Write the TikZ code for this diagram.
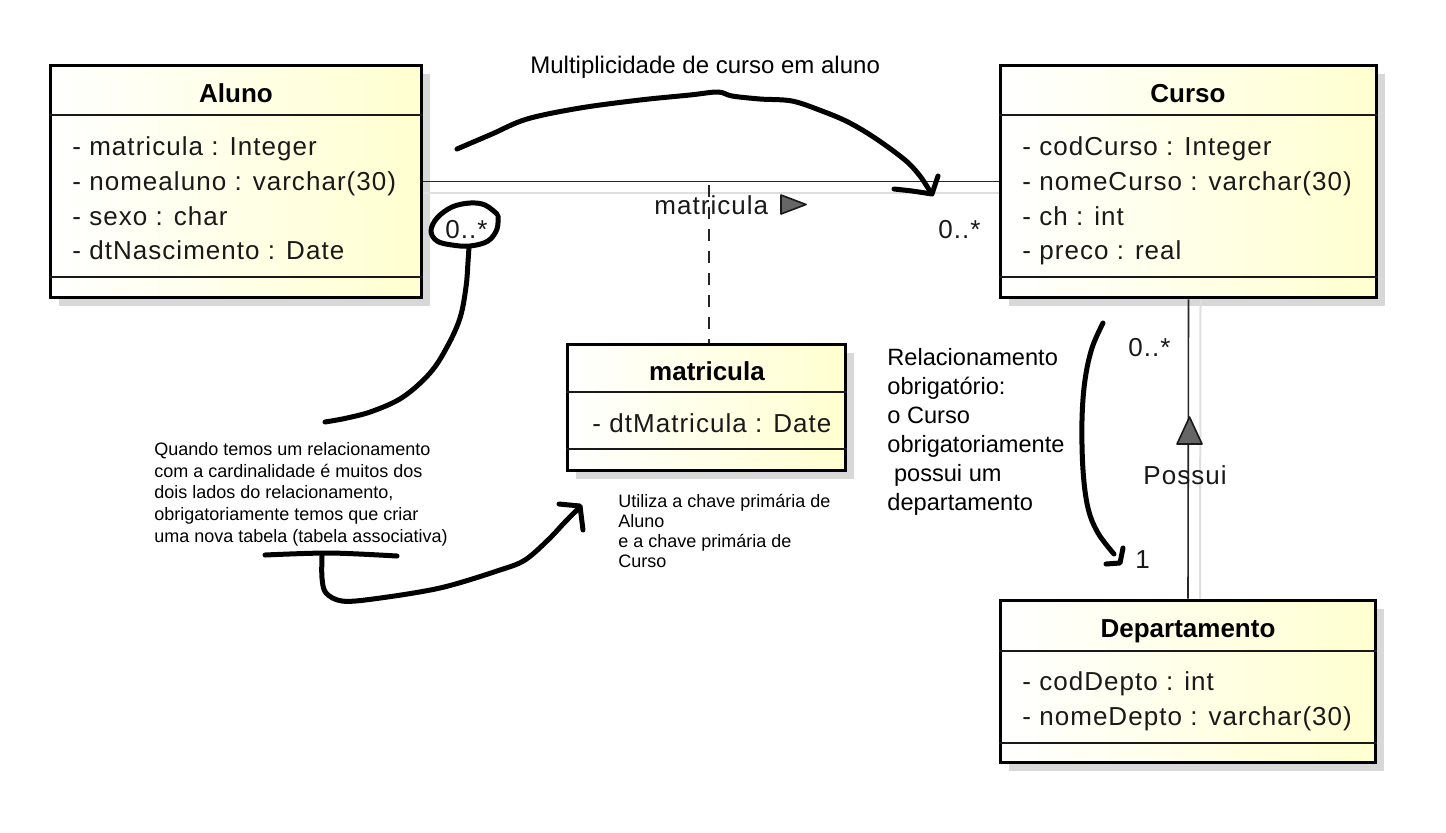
\documentclass[tikz,border=0pt]{standalone}
\usepackage{fontspec}
\setmainfont{Liberation Sans}
\newfontfamily\umlfont[LetterSpace=4]{Liberation Sans}
\usetikzlibrary{shadows}
\definecolor{ylw}{RGB}{255,255,208}
\definecolor{shadowgray}{RGB}{216,216,216}
\definecolor{lightln}{RGB}{222,222,222}
\begin{document}
\begin{tikzpicture}[x=0.5pt,y=-0.5pt,
  classbox/.style={draw=black, line width=1.8pt, left color=white, right color=ylw, inner sep=0pt,
    drop shadow={shadow xshift=4pt, shadow yshift=-4pt, fill=shadowgray, opacity=1}},
  sepline/.style={line width=1pt, black!90},
  ttl/.style={font=\fontsize{13}{15}\selectfont\bfseries, text=black, inner sep=0pt, anchor=base},
  attr/.style={font=\umlfont\fontsize{13}{15}\selectfont, text=black!90, inner sep=0pt, anchor=base west},
  assoc/.style={line width=0.8pt, black!85},
  lightline/.style={line width=1pt, lightln},
  dashline/.style={line width=0.8pt, black!85, dash pattern=on 6pt off 5pt},
  tri/.style={fill=black!60, draw=black!90, line width=0.8pt, line join=round},
  hand/.style={line width=2.5pt, line cap=round, line join=round, black},
  note/.style={align=left, inner sep=0pt, anchor=north west, text=black}
]
\useasboundingbox[fill=white] (0,0) rectangle (1446,832);

% ---- class boxes ----
\node[classbox, minimum width=185.5pt, minimum height=116pt] (aluno) at (236,181.5) {};
\node[classbox, minimum width=188pt, minimum height=116pt] (curso) at (1188.5,181.5) {};
\node[classbox, minimum width=139pt, minimum height=63pt] (matr) at (706.5,407.5) {};
\node[classbox, minimum width=187.5pt, minimum height=81pt] (depto) at (1188,681.5) {};

% separators
\draw[sepline] ([yshift=-25.75pt]aluno.north west) -- ([yshift=-25.75pt]aluno.north east);
\draw[sepline] ([yshift=11.25pt]aluno.south west) -- ([yshift=11.25pt]aluno.south east);
\draw[sepline] ([yshift=-25.75pt]curso.north west) -- ([yshift=-25.75pt]curso.north east);
\draw[sepline] ([yshift=11.25pt]curso.south west) -- ([yshift=11.25pt]curso.south east);
\draw[sepline] ([yshift=-24.75pt]matr.north west) -- ([yshift=-24.75pt]matr.north east);
\draw[sepline] ([yshift=11.75pt]matr.south west) -- ([yshift=11.75pt]matr.south east);
\draw[sepline] ([yshift=-26.25pt]depto.north west) -- ([yshift=-26.25pt]depto.north east);
\draw[sepline] ([yshift=10.75pt]depto.south west) -- ([yshift=10.75pt]depto.south east);

% titles and attributes
\node[ttl] (alunoT) at (236,102) {Aluno};
\node[attr] (a1) at (72,155) {- matricula : Integer};
\node[attr] (a2) at (72,190) {- nomealuno : varchar(30)};
\node[attr] (a3) at (72,225) {- sexo : char};
\node[attr] (a4) at (72,259) {- dtNascimento : Date};

\node[ttl] (cursoT) at (1188,102) {Curso};
\node[attr] (c1) at (1022,155) {- codCurso : Integer};
\node[attr] (c2) at (1022,190) {- nomeCurso : varchar(30)};
\node[attr] (c3) at (1022,225) {- ch : int};
\node[attr] (c4) at (1022,259) {- preco : real};

\node[ttl] (matrT) at (707,380) {matricula};
\node[attr] (m1) at (592,432) {- dtMatricula : Date};

\node[ttl] (deptoT) at (1188,637) {Departamento};
\node[attr] (d1) at (1022,690) {- codDepto : int};
\node[attr] (d2) at (1022,725) {- nomeDepto : varchar(30)};

% ---- connectors ----
\draw[lightline] ([yshift=-5.5pt]aluno.east) -- ([yshift=-5.5pt]curso.west);
\draw[assoc] (aluno.east) -- (curso.west);
\coordinate (assocmid) at (709,185);
\draw[dashline] (assocmid) -- (assocmid |- matr.north);
\draw[lightline] ([xshift=6pt]curso.south) -- ([xshift=6pt]depto.north);
\draw[assoc] (curso.south) -- (depto.north);

% association labels
\node[attr] (lblmatr) at (654,214) {matricula};
\draw[tri] (781,195) -- (781,214) -- (806,204.5) -- cycle;
\node[attr] (mulA) at (445,238) {0..*};
\node[attr] (mulC) at (938,238) {0..*};
\node[attr] (mulC2) at (1128,356) {0..*};
\node[attr] (mulD) at (1135,568) {1};
\draw[tri] (1177,444) -- (1202,444) -- (1189.5,417) -- cycle;
\node[attr] (possui) at (1143,484) {Possui};

% ---- annotation texts ----
\node[anchor=base west, inner sep=0pt, font=\fontsize{12}{14}\selectfont] (multtxt) at (530,73) {Multiplicidade de curso em aluno};
\node[note, font=\fontsize{11.8}{14.5}\selectfont] (obrig) at (887,348) {Relacionamento\\obrigatório:\\o Curso\\obrigatoriamente\\\hspace*{0.28em}possui um\\departamento};
\node[note, font=\fontsize{9}{10.85}\selectfont] (note1) at (154,442) {Quando temos um relacionamento\\com a cardinalidade é muitos dos\\dois lados do relacionamento,\\obrigatoriamente temos que criar\\uma nova tabela (tabela associativa)};
\node[note, font=\fontsize{9}{10}\selectfont] (note2) at (618,494) {Utiliza a chave primária de\\Aluno\\e a chave primária de\\Curso};

% ---- handwritten strokes ----
\draw[hand] plot[smooth, tension=0.55] coordinates {(457,149) (492,134) (527,119) (580,108) (640,100) (690,95) (718,92) (732,96) (760,99) (792,101) (822,111) (848,122) (875,138) (905,160) (920,176) (931,193)};
\draw[hand] plot[smooth, tension=0.5] coordinates {(894,189) (912,191) (932,194)} -- (938,176);

\draw[hand] plot[smooth, tension=0.6] coordinates {(497,214) (485,205) (470,203) (452,207) (437,218) (431,231) (437,241) (452,245) (470,246) (488,241) (497,229) (498,216)};
\draw[hand] plot[smooth, tension=0.6] coordinates {(469,247) (468,262) (466,287) (460,318) (447,347) (430,373) (403,397) (373,411) (347,418) (325,422)};

\draw[hand] plot[smooth, tension=0.5] coordinates {(265,555) (330,553) (397,556)};
\draw[hand] plot[smooth, tension=0.55] coordinates {(322,556) (322,578) (326,593) (342,601) (373,599) (440,588) (500,570) (525,560) (548,540) (565,522) (580,507)};
\draw[hand] (559,504) -- (580,506) -- (583,530);

\draw[hand] plot[smooth, tension=0.6] coordinates {(1103,323) (1092,348) (1085,380) (1082,420) (1083,470) (1088,508) (1098,533) (1114,554)};
\draw[hand] (1106,564) -- (1120,563) -- (1123,548);
\end{tikzpicture}
\end{document}
